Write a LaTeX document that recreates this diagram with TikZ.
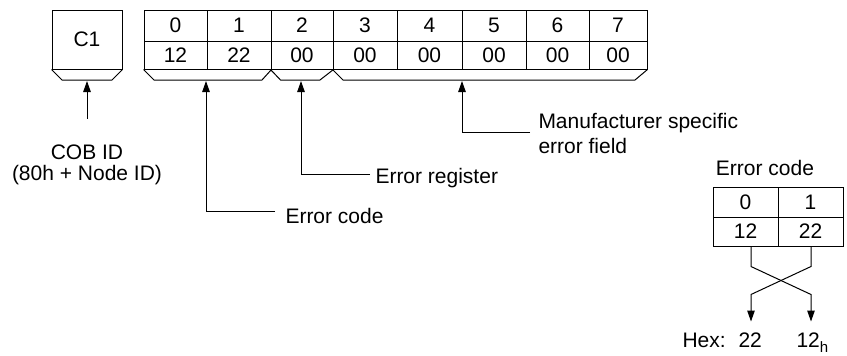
\documentclass[tikz,border=0pt]{standalone}
\usepackage{fontspec}
\setmainfont{Liberation Sans}
\usetikzlibrary{arrows.meta}
\begin{document}
\begin{tikzpicture}[x=1pt,y=-1pt,line width=1pt,
  every node/.style={font=\fontsize{21}{25}\selectfont},
  cell/.style={draw,inner sep=0pt,line width=1pt},
  txt/.style={inner sep=0pt},
  brace/.style={draw,line width=1pt,line join=miter},
  arr/.style={-{Triangle[length=11pt,width=7.5pt]},line width=1pt},
  conn/.style={line width=1pt}]
\useasboundingbox (0,0) rectangle (847,356);
% C1 box
\node[cell,minimum width=70pt,minimum height=59pt] (c1) at (87,39.5) {C1};
\draw[brace] (c1.south west) -- (62,80) -- (112,80) -- (c1.south east);
\coordinate (c1b) at (87,81);
% main table
\foreach \i/\l/\r/\v in {0/144/207/12,1/207/271/22,2/271/333/00,3/333/397/00,4/397/462/00,5/462/526/00,6/526/589/00,7/589/647/00}{
  \node[cell,minimum width={\r-\l},minimum height=31pt] (h\i) at ({(\l+\r)/2},25.5) {\i};
  \node[cell,minimum width={\r-\l},minimum height=28pt] (v\i) at ({(\l+\r)/2},55) {\v};
}
\draw[brace] (v0.south west) -- (154,80) -- (262,80) -- (v1.south east);
\draw[brace] (v2.south west) -- (280.5,80) -- (320,80) -- (v2.south east);
\draw[brace] (v3.south west) -- (343,80) -- (635,80) -- (v7.south east);
\coordinate (b1) at (206,81);
\coordinate (b2) at (301,81);
\coordinate (b3) at (462,81);
% labels
\node[txt,anchor=base] (cob1) at (87,159) {COB ID};
\node[txt,anchor=base] (cob2) at (87,180) {(80h + Node ID)};
\draw[arr] ([yshift=25pt]cob1.north) -- (c1b);
\node[txt,anchor=base west] (ec) at (285,223) {Error code};
\coordinate (ecEnd) at (275,211);
\draw[arr] (ecEnd) -| (b1);
\node[txt,anchor=base west] (er) at (375,183) {Error register};
\coordinate (erEnd) at (370,174);
\draw[arr] (erEnd) -| (b2);
\node[txt,anchor=base west] (mf1) at (538,128) {Manufacturer specific};
\node[txt,anchor=base west] (mf2) at (538,153) {error field};
\coordinate (mfEnd) at (530,132);
\draw[arr] (mfEnd) -| (b3);
% small table
\node[txt,anchor=base] (ect) at (765,175) {Error code};
\node[cell,minimum width=65pt,minimum height=30pt] (sh0) at (745.5,202) {0};
\node[cell,minimum width=65pt,minimum height=30pt] (sh1) at (810.5,202) {1};
\node[cell,minimum width=65pt,minimum height=29pt] (sv0) at (745.5,231.5) {12};
\node[cell,minimum width=65pt,minimum height=29pt] (sv1) at (810.5,231.5) {22};
\node[txt,anchor=base west] (hex) at (682,347) {Hex:};
\node[txt,anchor=base west] (hx22) at (738,347) {22};
\node[txt,anchor=base west] (hx12) at (796,347) {12\raisebox{-5pt}{\fontsize{15}{15}\selectfont h}};
\draw[arr] ([xshift=5.5pt]sv0.south) -- ++(0,20) -- ++(60,28) -- ++(0,27);
\draw[arr] ([xshift=0.5pt]sv1.south) -- ++(0,20) -- ++(-60,28) -- ++(0,27);
\end{tikzpicture}
\end{document}
